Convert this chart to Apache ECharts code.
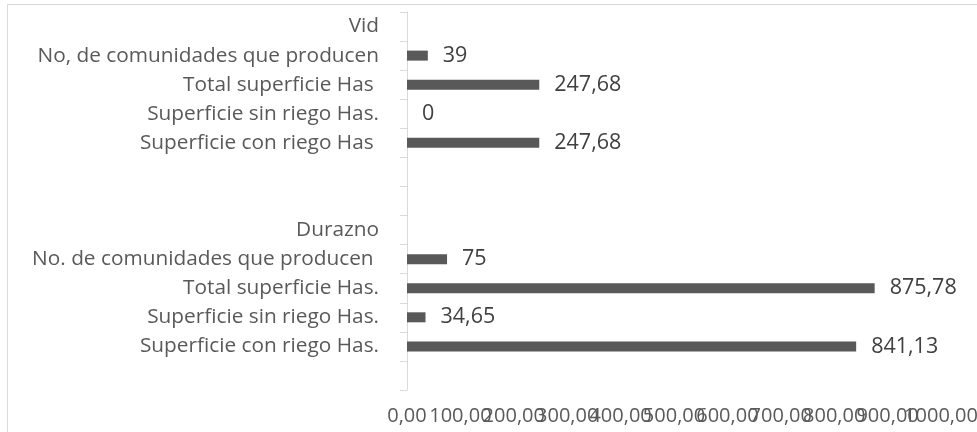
<!DOCTYPE html>
<html>
<head>
<meta charset="utf-8">
<script src="https://cdn.jsdelivr.net/npm/echarts@6/dist/echarts.min.js"></script>
<style>
  html, body { margin: 0; padding: 0; background: #fff; }
  #chart { width: 977px; height: 432px; }
</style>
</head>
<body>
<div id="chart"></div>
<script>
// categories top to bottom, as in the picture
const categories = [
  'Vid',
  'No, de comunidades que producen',
  'Total superficie Has ',
  'Superficie sin riego Has.',
  'Superficie con riego Has ',
  ' ',
  '  ',
  'Durazno',
  'No. de comunidades que producen ',
  'Total superficie Has.',
  'Superficie sin riego Has.',
  'Superficie con riego Has.',
  '   '
];
const values = [null, 39, 247.68, 0, 247.68, null, null, null, 75, 875.78, 34.65, 841.13, null];
const xTicks = { min: 0, max: 1000, interval: 100 };

const fontFamily = '"Open Sans", sans-serif';
const fmt = v => v.toFixed(2).replace('.', ',');

const labelBase = {
  margin: 16,
  color: '#595959',
  fontSize: 20,
  fontFamily: fontFamily,
  hideOverlap: false
};

// second axis only carries the last tick label, the first one would drop it (overlap)
const xAxisBase = {
  type: 'value',
  min: xTicks.min,
  max: xTicks.max,
  interval: xTicks.interval,
  position: 'bottom',
  axisLine: { show: false },
  axisTick: { show: false },
  splitLine: { show: false }
};

const chart = echarts.init(document.getElementById('chart'));
chart.setOption({
  backgroundColor: '#fff',
  animation: false,
  graphic: [{
    type: 'rect',
    shape: { x: 7.5, y: 4.5, width: 1000, height: 500 },
    style: { fill: 'none', stroke: '#d9d9d9', lineWidth: 1 },
    silent: true
  }],
  grid: { left: 407, right: 36, top: 12, bottom: 42, containLabel: false, outerBoundsMode: 'none' },
  xAxis: [
    Object.assign({}, xAxisBase, {
      axisLabel: Object.assign({}, labelBase, {
        showMinLabel: true,
        showMaxLabel: false,
        formatter: v => v === xTicks.max ? '' : fmt(v)
      })
    }),
    Object.assign({}, xAxisBase, {
      offset: 0,
      axisLabel: Object.assign({}, labelBase, {
        showMinLabel: false,
        showMaxLabel: true,
        formatter: v => v === xTicks.max ? fmt(v) : ''
      })
    })
  ],
  yAxis: {
    type: 'category',
    inverse: true,
    data: categories,
    axisLine: { show: true, lineStyle: { color: '#d9d9d9', width: 1 } },
    axisTick: { show: true, length: 7, lineStyle: { color: '#d9d9d9' } },
    axisLabel: {
      interval: 0,
      margin: 28,
      color: '#595959',
      fontSize: 20.8,
      fontFamily: fontFamily
    }
  },
  series: [{
    type: 'bar',
    data: values,
    barWidth: 10,
    itemStyle: { color: '#595959' },
    label: {
      show: true,
      position: 'right',
      distance: 15,
      color: '#404040',
      fontSize: 21.5,
      fontFamily: fontFamily,
      formatter: p => p.value == null ? '' : String(p.value).replace('.', ',')
    }
  }]
});
</script>
</body>
</html>
